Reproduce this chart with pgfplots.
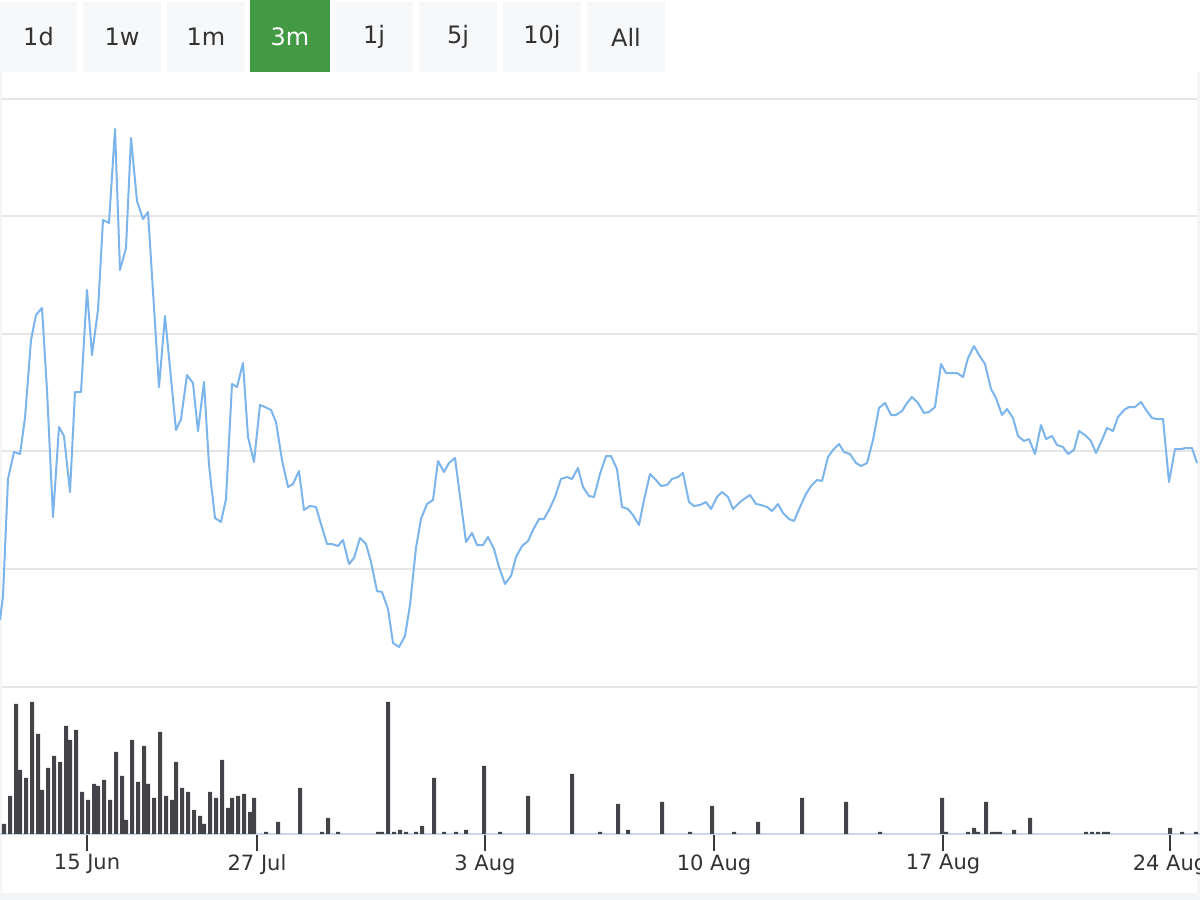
\documentclass[border=0pt]{standalone}
\usepackage{fontspec}
\setmainfont{DejaVu Sans}
\usepackage{pgfplots}
\pgfplotsset{compat=1.18}
\definecolor{linec}{HTML}{7CB5EC}
\definecolor{barc}{HTML}{434348}
\definecolor{gridc}{HTML}{E6E6E6}
\definecolor{axisc}{HTML}{CCD6EB}
\definecolor{tickc}{HTML}{3A3A3A}
\definecolor{labelc}{HTML}{333333}
\definecolor{btnc}{HTML}{F7F8FA}
\definecolor{btntext}{HTML}{333333}
\definecolor{greenc}{HTML}{449A44}
\definecolor{framec}{HTML}{F4F5F7}
\begin{document}
\begin{tikzpicture}
% ---------- price panel (pixel grid, y downward) ----------
\begin{axis}[name=main, x=1bp, y=1bp, y dir=reverse,
  xmin=0, xmax=1200, ymin=0, ymax=900, hide axis, clip=true]
\fill[white] (axis cs:0,0) rectangle (axis cs:1200,900);
\fill[framec] (axis cs:0,893) rectangle (axis cs:1200,900);
\fill[framec] (axis cs:1197,72) rectangle (axis cs:1200,900);
\fill[framec] (axis cs:0,72) rectangle (axis cs:2,893);
% range selector buttons
\fill[btnc] (axis cs:0,2) rectangle (axis cs:77,72);
\fill[btnc] (axis cs:83,2) rectangle (axis cs:161,72);
\fill[btnc] (axis cs:167,2) rectangle (axis cs:245,72);
\fill[greenc] (axis cs:250,0) rectangle (axis cs:330,72);
\fill[btnc] (axis cs:335,2) rectangle (axis cs:413,72);
\fill[btnc] (axis cs:419,2) rectangle (axis cs:497,72);
\fill[btnc] (axis cs:503,2) rectangle (axis cs:581,72);
\fill[btnc] (axis cs:587,2) rectangle (axis cs:665,72);
\node[font=\fontsize{24bp}{28bp}\selectfont, text=btntext] at (axis cs:38.5,37) {1d};
\node[font=\fontsize{24bp}{28bp}\selectfont, text=btntext] at (axis cs:122,37) {1w};
\node[font=\fontsize{24bp}{28bp}\selectfont, text=btntext] at (axis cs:206,37) {1m};
\node[font=\fontsize{24bp}{28bp}\selectfont, text=white] at (axis cs:290,37) {3m};
\node[font=\fontsize{24bp}{28bp}\selectfont, text=btntext] at (axis cs:374,37) {1j};
\node[font=\fontsize{24bp}{28bp}\selectfont, text=btntext] at (axis cs:458,37) {5j};
\node[font=\fontsize{24bp}{28bp}\selectfont, text=btntext] at (axis cs:542,37) {10j};
\node[font=\fontsize{24bp}{28bp}\selectfont, text=btntext] at (axis cs:626,37) {All};
% grid lines
\draw[gridc, line width=1.6bp] (axis cs:2,99) -- (axis cs:1197,99);
\draw[gridc, line width=1.6bp] (axis cs:2,216) -- (axis cs:1197,216);
\draw[gridc, line width=1.6bp] (axis cs:2,334) -- (axis cs:1197,334);
\draw[gridc, line width=1.6bp] (axis cs:2,451) -- (axis cs:1197,451);
\draw[gridc, line width=1.6bp] (axis cs:2,569) -- (axis cs:1197,569);
\draw[gridc, line width=1.6bp] (axis cs:2,687) -- (axis cs:1197,687);
\coordinate (volbase) at (axis cs:0,834);
% price line
\addplot[linec, line width=2bp, line join=round, mark=none] coordinates {
(0,620) (3,596) (8,479) (14,452) (20,454) (25,418) (31,340) (36,315) (42,308)
(47,390) (53,517) (59,427) (64,436) (70,492) (75,392) (81,392) (87,290) (92,355)
(98,310) (103,220) (109,223) (115,129) (120,270) (126,248) (131,138) (137,201)
(143,219) (148,212) (159,387) (165,316) (176,430) (181,419) (187,375) (193,383)
(198,431) (204,382) (209,465) (215,518) (221,522) (226,499) (232,384) (237,387)
(243,363) (248,437) (254,462) (260,405) (265,407) (271,410) (276,422) (282,460)
(288,487) (293,484) (299,471) (304,510) (310,506) (316,507) (321,524) (327,544)
(332,544) (338,546) (343,540) (349,564) (354,558) (360,538) (366,544) (371,562)
(377,591) (382,592) (388,609) (393,643) (399,647) (405,636) (410,605) (416,548)
(421,519) (427,504) (433,500) (438,461) (444,472) (449,463) (455,458) (466,542)
(472,533) (477,545) (483,545) (488,537) (494,549) (499,567) (505,584) (511,576)
(516,557) (522,546) (528,541) (533,530) (539,519) (544,519) (550,508) (555,497)
(561,479) (567,477) (572,479) (578,468) (583,487) (589,496) (594,497) (600,474)
(606,456) (611,456) (617,469) (622,507) (628,509) (633,515) (639,525) (644,500)
(650,474) (656,480) (661,486) (667,485) (672,479) (678,477) (683,473) (689,502)
(694,506) (700,505) (706,502) (711,509) (717,497) (722,492) (728,497) (733,509)
(739,503) (744,499) (750,495) (756,504) (761,505) (767,507) (772,511) (778,504)
(783,513) (789,519) (794,521) (800,507) (806,494) (811,486) (817,480) (822,481)
(828,457) (833,450) (839,444) (844,452) (850,454) (856,463) (861,466) (867,463)
(873,440) (879,408) (885,403) (891,415) (896,415) (902,411) (907,403) (912,397)
(918,403) (924,413) (929,412) (935,407) (941,364) (946,373) (952,373) (957,373)
(963,377) (968,358) (974,346) (979,355) (985,364) (991,389) (996,398) (1002,415)
(1007,409) (1013,418) (1018,436) (1024,441) (1029,439) (1035,454) (1041,425)
(1046,439) (1052,436) (1057,445) (1063,447) (1068,454) (1074,450) (1079,431)
(1085,435) (1091,441) (1096,453) (1102,440) (1107,428) (1113,431) (1118,417)
(1124,410) (1129,407) (1135,407) (1141,402) (1146,410) (1152,418) (1157,419)
(1163,419) (1169,482) (1175,449) (1181,449) (1186,448) (1192,448) (1197,463)
};
\end{axis}
% ---------- volume panel ----------
\begin{axis}[at={(volbase)}, anchor=south west,
  x=1bp, y=1bp, xmin=0, xmax=1200, ymin=0, ymax=147,
  axis y line=none, axis x line=bottom,
  x axis line style={draw=axisc, line width=2bp, -},
  xtick={87,257,485,714,943,1170},
  xticklabels={15 Jun,27 Jul,3 Aug,10 Aug,17 Aug,24 Aug},
  tick align=outside, major tick length=17bp,
  xtick style={draw=tickc, line width=1.6bp},
  xticklabel style={font=\fontsize{21bp}{25bp}\selectfont, text=labelc},
  ybar, bar width=4bp, clip=false]
\addplot[fill=barc, draw=none] coordinates {
(4,10) (10,38) (16,130) (20,64) (26,56) (32,132) (38,100) (42,44) (48,66) (54,78)
(60,72) (66,108) (70,94) (76,104) (82,42) (88,34) (94,50) (98,48) (104,54) (110,34)
(116,82) (122,58) (126,14) (132,94) (138,52) (144,88) (148,50) (154,36) (160,102)
(166,38) (172,34) (176,72) (182,46) (188,42) (194,24) (200,18) (204,10) (210,42)
(216,36) (222,74) (228,26) (232,36) (238,38) (244,40) (250,22) (254,36) (266,2)
(278,12) (300,46) (322,2) (328,16) (338,2) (378,2) (382,2) (388,132) (394,2)
(400,4) (406,2) (416,2) (422,8) (434,56) (444,2) (456,2) (466,4) (484,68) (500,2)
(528,38) (572,60) (600,2) (618,30) (628,4) (662,32) (690,2) (712,28) (734,2)
(758,12) (802,36) (846,32) (880,2) (942,36) (946,2) (968,2) (974,6) (978,2)
(986,32) (992,2) (996,2) (1000,2) (1014,4) (1030,16) (1086,2) (1092,2) (1098,2)
(1104,2) (1108,2) (1170,6) (1182,2) (1196,2)
};
\end{axis}
\pgfresetboundingbox
\useasboundingbox (main.south west) rectangle (main.north east);
\end{tikzpicture}
\end{document}
